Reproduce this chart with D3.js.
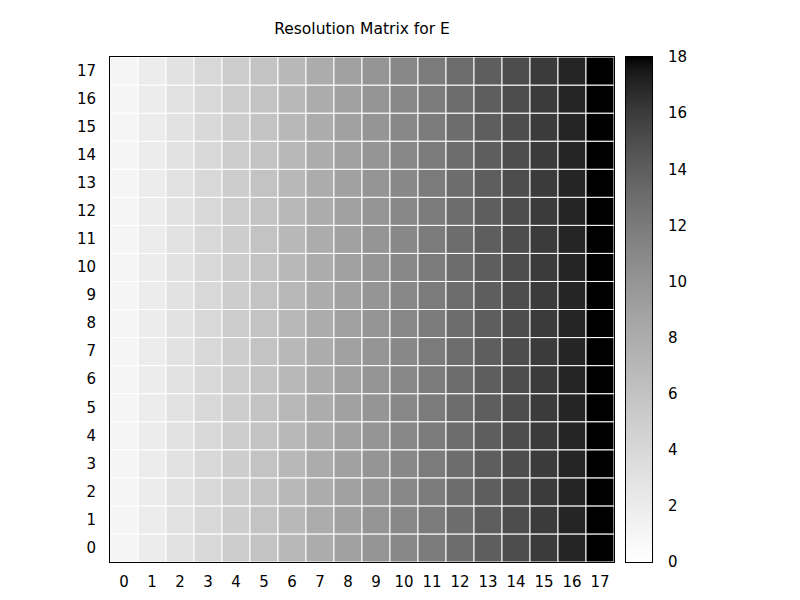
<!DOCTYPE html>
<html><head><meta charset="utf-8">
<script src="https://cdn.jsdelivr.net/npm/d3@7"></script>
<style>body{margin:0;background:#fff}svg{display:block}text{font-family:"DejaVu Sans",sans-serif;fill:#000}</style>
</head><body><svg id="c" width="800" height="600"></svg>
<script>
const title = "Resolution Matrix for E";
const xLabels = ["0","1","2","3","4","5","6","7","8","9","10","11","12","13","14","15","16","17"];
const yLabels = ["0","1","2","3","4","5","6","7","8","9","10","11","12","13","14","15","16","17"];
// value of each cell, by column (every row reads the same)
const columnValues = [1,2,3,4,5,6,7,8,9,10,11,12,13,14,15,16,17,18];
const cbTicks = [0,2,4,6,8,10,12,14,16,18];
const cbDomain = [0,18];

const svg = d3.select("#c");
const L=110, R=614, T=57, B=562;
const x = d3.scaleBand().domain(xLabels).range([L,R]).padding(0);
const y = d3.scaleBand().domain(yLabels).range([B,T]).padding(0);
const norm = d3.scaleLinear().domain(cbDomain).range([0,1]).clamp(true);
const color = v => { const g = Math.round(255*Math.pow(1-norm(v),2/3)); return d3.rgb(g,g,g).toString(); };

const cells = [];
yLabels.forEach(r => xLabels.forEach((c,i) => cells.push({r,c,v:columnValues[i]})));
svg.append("g").selectAll("rect").data(cells).join("rect")
  .attr("x",d=>x(d.c)).attr("y",d=>y(d.r))
  .attr("width",x.bandwidth()).attr("height",y.bandwidth())
  .attr("fill",d=>color(d.v)).attr("stroke","#fff").attr("stroke-width",1);
svg.append("rect").attr("x",L-0.5).attr("y",T-0.5).attr("width",R-L+1).attr("height",B-T+1)
  .attr("fill","none").attr("stroke","#000").attr("stroke-width",1);

const fs = 15;
const xAxis = svg.append("g").attr("transform",`translate(0,${B})`)
  .call(d3.axisBottom(x).tickSize(0).tickPadding(14));
xAxis.select(".domain").remove();
xAxis.selectAll("text").attr("font-size",fs).attr("font-family","DejaVu Sans");
const yAxis = svg.append("g").attr("transform",`translate(${L},0)`)
  .call(d3.axisLeft(y).tickSize(0).tickPadding(14));
yAxis.select(".domain").remove();
yAxis.selectAll("text").attr("font-size",fs).attr("font-family","DejaVu Sans");

// colorbar
const cbL=626, cbR=652;
const cy = d3.scaleLinear().domain(cbDomain).range([B,T]);
const grad = svg.append("defs").append("linearGradient").attr("id","cb")
  .attr("x1",0).attr("y1",1).attr("x2",0).attr("y2",0);
d3.range(0,1.0001,0.02).forEach(t=>{
  grad.append("stop").attr("offset",t).attr("stop-color",color(cbDomain[0]+t*(cbDomain[1]-cbDomain[0])));
});
svg.append("rect").attr("x",cbL).attr("y",T).attr("width",cbR-cbL).attr("height",B-T).attr("fill","url(#cb)");
svg.append("rect").attr("x",cbL-0.5).attr("y",T-0.5).attr("width",cbR-cbL+1).attr("height",B-T+1)
  .attr("fill","none").attr("stroke","#000").attr("stroke-width",1);
const cAxis = svg.append("g").attr("transform",`translate(${cbR},0)`)
  .call(d3.axisRight(cy).tickValues(cbTicks).tickSize(0).tickPadding(16));
cAxis.select(".domain").remove();
cAxis.selectAll("text").attr("font-size",fs).attr("font-family","DejaVu Sans");

svg.append("text").attr("x",362).attr("y",34).attr("text-anchor","middle")
  .attr("font-size",15.5).text(title);
</script></body></html>
